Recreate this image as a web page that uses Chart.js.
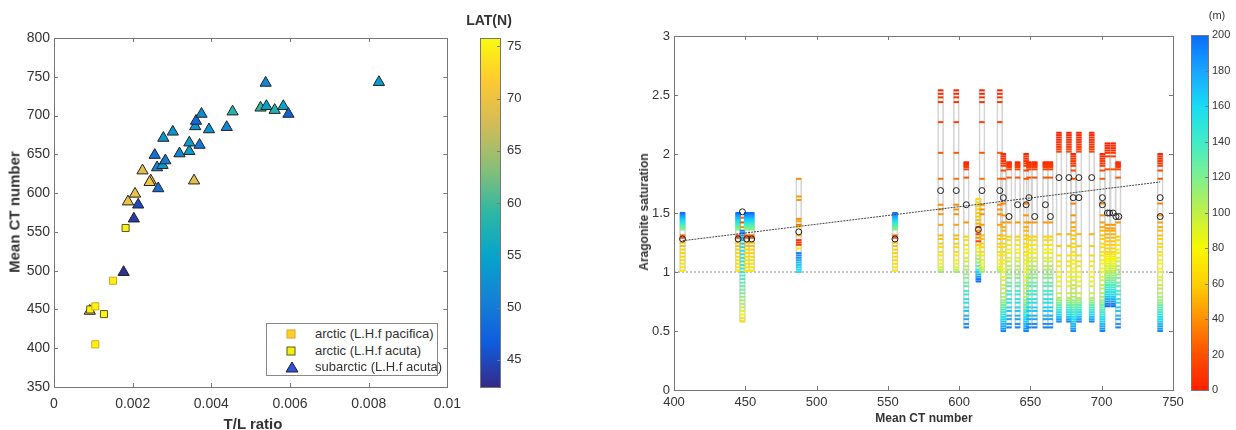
<!DOCTYPE html>
<html>
<head>
<meta charset="utf-8">
<script src="https://cdn.jsdelivr.net/npm/chart.js@4.4.1/dist/chart.umd.min.js"></script>
<style>
  body { margin: 0; background: #fff; font-family: "Liberation Sans", Arial, sans-serif; }
  #wrap { position: relative; width: 1236px; height: 430px; overflow: hidden; background: #fff; }
  canvas { position: absolute; top: 0; }
  .lbl { position: absolute; color: #333; white-space: nowrap; transform: translate(-50%, -50%); }
  .rot { transform: translate(-50%, -50%) rotate(-90deg); }
  #legend { position: absolute; left: 266px; top: 323px; width: 172px; height: 53px; border: 1px solid #888;
            background: #fff; font-size: 13px; color: #333; box-sizing: border-box; }
  #legend div { position: absolute; left: 0; height: 16px; line-height: 16px; }
  #legend svg { position: absolute; left: 18px; top: 2px; }
  #legend span { position: absolute; left: 48px; white-space: nowrap; }
</style>
</head>
<body>
<div id="wrap">
  <canvas id="left" width="470" height="430" style="left:0px"></canvas>
  <canvas id="leftBar" width="70" height="430" style="left:470px"></canvas>
  <canvas id="right" width="590" height="430" style="left:600px"></canvas>
  <canvas id="rightBar" width="51" height="430" style="left:1185px"></canvas>

  <div class="lbl rot" style="left:14px;top:212px;font-weight:bold;font-size:15px">Mean CT number</div>
  <div class="lbl" style="left:253px;top:423px;font-weight:bold;font-size:15px">T/L ratio</div>
  <div class="lbl" style="left:489px;top:20px;font-weight:bold;font-size:14px">LAT(N)</div>
  <div class="lbl rot" style="left:644px;top:212px;font-weight:bold;font-size:12px">Aragonite saturation</div>
  <div class="lbl" style="left:924px;top:418px;font-weight:bold;font-size:12px">Mean CT number</div>
  <div class="lbl" style="left:1217px;top:15px;font-size:11px">(m)</div>

  <div id="legend">
    <div style="top:2px;width:100%">
      <svg width="12" height="12"><rect x="2" y="2" width="8" height="8" fill="#fcd02c" stroke="#e0a020" stroke-width="1"/></svg>
      <span>arctic (L.H.f pacifica)</span></div>
    <div style="top:19px;width:100%">
      <svg width="12" height="12"><rect x="2" y="2" width="8" height="8" fill="#f2ee10" stroke="#5a5a20" stroke-width="1"/></svg>
      <span>arctic (L.H.f acuta)</span></div>
    <div style="top:35px;width:100%">
      <svg width="14" height="12"><polygon points="7,1 13,11 1,11" fill="#3050e0" stroke="#222" stroke-width="1"/></svg>
      <span>subarctic (L.H.f acuta)</span></div>
  </div>
</div>

<script>
// ---------- left panel: T/L ratio vs mean CT number, coloured by latitude ----------
const pacT = [0.00105, 0.00105, 0.00150];
const pacCT = [405, 454, 487];
const pacLat = [75.6, 75.2, 74.8];

const acuT = [0.00092, 0.00127, 0.00182];
const acuCT = [450, 444, 555];
const acuLat = [75.0, 75.3, 74.9];

const subT = [0.00091, 0.00177, 0.00203, 0.00214, 0.00188, 0.00206, 0.00225, 0.00246, 0.00243, 0.00356,
              0.00265, 0.00262, 0.00276, 0.00283, 0.00256, 0.00278, 0.00302, 0.00319, 0.00344, 0.00344,
              0.00370, 0.00359, 0.00361, 0.00375, 0.00394, 0.00439, 0.00454, 0.00525, 0.00540, 0.00538,
              0.00561, 0.00583, 0.00596, 0.00826];
const subCT = [448, 498, 567, 585, 589, 599, 629, 616, 614, 616,
               606, 633, 636, 642, 649, 671, 679, 651, 654, 665,
               662, 686, 693, 702, 682, 685, 705, 710, 712, 742,
               707, 712, 702, 743];
const subLat = [70, 43, 44, 45, 70, 70, 69, 70, 71, 69,
                49, 51, 54, 50, 49, 53, 53, 51, 54, 54,
                50, 53, 48, 52, 53, 51, 58, 59, 55, 51,
                58, 55, 47, 54];

const tlTicks = [0, 0.002, 0.004, 0.006, 0.008, 0.01];
const ctTicks = [350, 400, 450, 500, 550, 600, 650, 700, 750, 800];
const latTicks = [45, 50, 55, 60, 65, 70, 75];
const latMin = 42.4, latMax = 75.8;

// ---------- right panel: aragonite saturation profiles, coloured by depth ----------
const profAOmega = [2.54,2.51,2.48,2.44,2.27,2.01,1.79,1.57,1.53,1.49,1.40,1.31,1.28,1.24,1.21,1.17,1.14,1.10,1.07,1.04,1.02,1.00];
const profADepth = [2,4,6,8,14,22,30,38,40,42,46,52,56,60,64,68,72,76,82,90,100,112];

const profBOmega = [2.18,2.16,2.14,2.12,2.10,2.08,2.06,2.04,2.02,1.32,1.22,1.14,1.09,1.05,1.00,0.96,0.92,0.88,0.82,0.78,
                    0.76,0.74,0.72,0.70,0.68,0.66,0.64,0.62,0.60,0.58];
const profBDepth = [1,2,3,5,6,8,10,12,14,52,60,66,70,74,78,82,86,90,96,104,
                    112,120,128,136,144,152,160,170,180,190];

const profCOmega = [1.93,1.92,1.91,1.90,1.89,1.87,1.80,1.42,1.30,1.27,1.23,1.19,1.16,1.12,1.09,1.05,1.02,0.98,0.95,0.91,
                    0.88,0.84,0.81,0.77,0.74,0.70,0.67,0.63,0.60,0.56,0.53];
const profCDepth = [3,5,7,9,11,14,22,42,60,66,72,78,84,90,96,102,108,114,120,126,
                    132,138,144,150,156,162,168,174,180,186,192];

const profDOmega = [2.00,1.98,1.96,1.94,1.92,1.90,1.86,1.79,1.58,1.48,1.42,1.38,1.35,1.31,1.28,1.24,1.21,1.17,1.14,1.10,
                    1.07,1.03,1.00,0.96,0.93,0.89,0.86,0.82,0.79,0.76,0.74,0.72,0.70,0.68,0.66,0.64,0.62,0.60,0.58,0.56,
                    0.54,0.52,0.50];
const profDDepth = [2,4,6,8,10,12,16,22,34,40,44,48,52,56,60,63,66,69,72,75,
                    78,81,84,88,92,96,100,104,108,112,118,124,130,136,142,148,154,160,166,172,
                    178,184,190];

const profEOmega = [2.09,2.07,2.05,2.03,2.01,1.98,1.87,1.40,1.37,1.35,1.32,1.29,1.26,1.23,1.20,
                    1.17,1.15,1.13,1.11,1.09,1.07,1.05,1.03,1.01,0.99,0.97,0.95,0.93,0.91,0.89,0.87,0.85,0.83,0.81,
                    0.79,0.77,0.75,0.73,0.71];
const profEDepth = [1,3,5,7,9,12,20,40,44,47,50,53,56,59,62,
                    66,70,74,78,82,86,90,95,100,106,112,118,124,130,136,142,148,154,160,
                    168,176,184,192,200];

const profFOmega = [1.62,1.59,1.56,1.53,1.50,1.47,1.44,1.41,1.38,1.35,1.32,1.29,1.26,1.23,1.20,1.17,1.14,1.11,1.08,1.05,
                    1.02,1.00,0.98,0.96,0.94,0.92];
const profFDepth = [66,64,62,60,58,56,54,50,14,46,12,42,10,60,80,90,100,110,120,130,
                    150,165,175,185,195,200];

const profGOmega = [1.50,1.49,1.48,1.47,1.46,1.45,1.44,1.43,1.42,1.41,1.40,1.39,1.38,1.37,1.36,1.31,1.29,1.25,1.22,1.19,
                    1.16,1.13,1.10,1.07,1.04,1.01];
const profGDepth = [200,194,188,182,176,170,164,158,152,146,140,134,128,122,116,25,20,50,55,60,
                    62,64,66,68,70,72];

const profHOmega = [1.46,1.42,1.38,1.35,1.33,1.31,1.29,1.27,1.24,1.21,1.18,1.15,1.12,1.09,1.06,1.03,1.00,0.97,0.94,0.91,
                    0.88,0.85,0.82,0.79,0.76,0.73,0.70,0.67,0.64,0.61,0.58];
const profHDepth = [30,20,40,195,190,185,180,172,166,162,158,155,152,150,148,146,144,140,136,132,
                    128,124,120,115,110,105,100,90,80,72,66];

const profIOmega = [1.79,1.64,1.61,1.45,1.43,1.40,1.38,1.31,1.27,1.25,1.23,1.20,1.16,1.14,1.12,1.10,1.08,1.06,1.04,1.02,1.00];
const profIDepth = [40,42,44,40,45,28,75,50,8,5,10,72,195,190,185,178,172,166,162,158,154];

const stationCT = [406,445,448,451,454.5,487.5,555,587,598,605,613.5,616,628.5,631,635,641,647,649,653,660.5,
                   664,670,677,680,684,693,700.5,704,708,711.5,741];
const stationProf = ['G','G','H','G','G','I','G','A','A','C','F','A','A','D','C','C','D','C','C','C',
                     'C','B','B','D','B','B','D','E','E','C','D'];

const circCT = [406,445,448,451,454.5,487.5,555,587,598,605,613.5,616,628.5,631,635,641,647,649,653,660.5,
                664,670,677,680,684,684,693,700.5,700.5,704,705.5,708,710,712,741,741];
const circOmega = [1.28,1.28,1.51,1.28,1.28,1.34,1.28,1.69,1.69,1.57,1.36,1.69,1.69,1.63,1.47,1.57,1.57,1.63,1.47,1.57,
                   1.47,1.80,1.80,1.63,1.80,1.63,1.80,1.63,1.57,1.50,1.50,1.50,1.47,1.47,1.63,1.47];

const fitCT = [406, 741];
const fitOmega = [1.265, 1.763];
const satCT = [400, 750];
const satOmega = [1, 1];

const mctTicks = [400, 450, 500, 550, 600, 650, 700, 750];
const omegaTicks = [0, 0.5, 1, 1.5, 2, 2.5, 3];
const depthTicks = [0, 20, 40, 60, 80, 100, 120, 140, 160, 180, 200];

// colour maps
const parula = ['#352a87','#0f5cdd','#1481d6','#06a4ca','#2eb7a4','#87bf77','#d1bb59','#fec832','#f9fb0e'];
const depthMap = ['#ff2000','#ff5000','#ff9000','#ffd000','#f8f800','#c0f048','#7ef090','#40ecc8','#18dcf4','#18a4ff','#0a6cff'];

function hex2rgb(h) { return [1, 3, 5].map(i => parseInt(h.substr(i, 2), 16)); }
function cmap(stops, t) {
  t = Math.max(0, Math.min(1, t));
  const n = stops.length - 1, f = t * n;
  const i = Math.min(n - 1, Math.floor(f)), u = f - i;
  const a = hex2rgb(stops[i]), b = hex2rgb(stops[i + 1]);
  return 'rgb(' + a.map((v, k) => Math.round(v + (b[k] - v) * u)).join(',') + ')';
}
const latColor = lat => cmap(parula, (lat - latMin) / (latMax - latMin));
const depthColor = d => cmap(depthMap, d / 200);

const fixTicks = vals => scale => { scale.ticks = vals.map(v => ({ value: v })); };
const fmt = v => String(Number(v.toFixed(4)));

// matlab style box with inward ticks
const boxPlugin = {
  id: 'box',
  afterDatasetsDraw(chart) {
    const { ctx, chartArea: a, scales } = chart;
    ctx.save();
    ctx.strokeStyle = '#777';
    ctx.lineWidth = 1;
    ctx.strokeRect(Math.round(a.left) + 0.5, Math.round(a.top) + 0.5, Math.round(a.right - a.left), Math.round(a.bottom - a.top));
    ctx.beginPath();
    scales.x.ticks.forEach(t => {
      const x = Math.round(scales.x.getPixelForValue(t.value)) + 0.5;
      ctx.moveTo(x, a.bottom); ctx.lineTo(x, a.bottom - 4);
      ctx.moveTo(x, a.top); ctx.lineTo(x, a.top + 4);
    });
    scales.y.ticks.forEach(t => {
      const y = Math.round(scales.y.getPixelForValue(t.value)) + 0.5;
      ctx.moveTo(a.left, y); ctx.lineTo(a.left + 4, y);
      ctx.moveTo(a.right, y); ctx.lineTo(a.right - 4, y);
    });
    ctx.stroke();
    ctx.restore();
  }
};

const baseOpts = {
  responsive: false, animation: false, devicePixelRatio: 1,
  plugins: { legend: { display: false }, tooltip: { enabled: false } },
  events: []
};

function axis(min, max, ticks, size, pad, fit) {
  return {
    type: 'linear', min, max, offset: false,
    afterBuildTicks: fixTicks(ticks),
    afterFit: fit,
    grid: { display: false, drawTicks: false, offset: false },
    border: { display: false },
    ticks: { autoSkip: false, maxRotation: 0, padding: pad, color: '#333',
             font: { family: 'Liberation Sans', size }, callback: v => fmt(v) }
  };
}

// left chart
const pts = (xs, ys, cs) => xs.map((x, i) => ({ x, y: ys[i], c: cs[i] }));
new Chart(document.getElementById('left'), {
  type: 'scatter',
  data: {
    datasets: [
      { label: 'arctic (L.H.f pacifica)', data: pts(pacT, pacCT, pacLat), pointStyle: 'rect', pointRadius: 5,
        pointBackgroundColor: c => latColor(c.raw.c), pointBorderColor: '#e0a020', pointBorderWidth: 1 },
      { label: 'arctic (L.H.f acuta)', data: pts(acuT, acuCT, acuLat), pointStyle: 'rect', pointRadius: 5,
        pointBackgroundColor: c => latColor(c.raw.c), pointBorderColor: '#5a5a20', pointBorderWidth: 1 },
      { label: 'subarctic (L.H.f acuta)', data: pts(subT, subCT, subLat), pointStyle: 'triangle', pointRadius: 6.5,
        pointBackgroundColor: c => latColor(c.raw.c), pointBorderColor: '#222', pointBorderWidth: 1 }
    ]
  },
  options: Object.assign({}, baseOpts, {
    layout: { padding: { left: 0, right: 21, top: 38, bottom: 0 } },
    scales: {
      x: axis(0, 0.01, tlTicks, 14, 9, s => { s.height = 43; }),
      y: axis(350, 800, ctTicks, 14, 4, s => { s.width = 54; })
    }
  }),
  plugins: [boxPlugin]
});

// right chart
const profiles = {
  A: [profAOmega, profADepth], B: [profBOmega, profBDepth], C: [profCOmega, profCDepth],
  D: [profDOmega, profDDepth], E: [profEOmega, profEDepth], F: [profFOmega, profFDepth],
  G: [profGOmega, profGDepth], H: [profHOmega, profHDepth], I: [profIOmega, profIDepth]
};
const dashes = [], columns = [];
stationCT.forEach((ct, i) => {
  const [om, dp] = profiles[stationProf[i]];
  om.forEach((o, k) => dashes.push({ x: ct, y: o, d: dp[k] }));
  columns.push({ x: ct, y: [Math.min(...om), Math.max(...om)] });
});

new Chart(document.getElementById('right'), {
  type: 'scatter',
  data: {
    datasets: [
      { type: 'bar', data: columns, backgroundColor: 'rgba(255,255,255,0)', borderColor: '#d4d4d4',
        borderWidth: 1, borderSkipped: false, barThickness: 6, order: 5 },
      { data: satCT.map((x, i) => ({ x, y: satOmega[i] })), showLine: true, pointRadius: 0,
        borderColor: '#b0b0b0', borderWidth: 1.5, borderDash: [2, 2], order: 4 },
      { data: dashes, pointStyle: 'line', pointRadius: 2.7, pointBorderWidth: 2,
        pointBorderColor: c => depthColor(c.raw.d), order: 3 },
      { data: fitCT.map((x, i) => ({ x, y: fitOmega[i] })), showLine: true, pointRadius: 0,
        borderColor: '#444', borderWidth: 1, borderDash: [2, 1], order: 2 },
      { data: circCT.map((x, i) => ({ x, y: circOmega[i] })), pointStyle: 'circle', pointRadius: 3,
        pointBorderColor: '#222', pointBorderWidth: 1, pointBackgroundColor: 'rgba(0,0,0,0)', order: 1 }
    ]
  },
  options: Object.assign({}, baseOpts, {
    layout: { padding: { left: 0, right: 17, top: 36, bottom: 0 } },
    scales: {
      x: axis(400, 750, mctTicks, 13, 5, s => { s.height = 40; }),
      y: axis(0, 3, omegaTicks, 13, 4, s => { s.width = 74; })
    }
  }),
  plugins: [boxPlugin]
});

// colour bars
function colorbar(id, min, max, ticks, stops, pad, axisW, size, labelPad) {
  new Chart(document.getElementById(id), {
    type: 'scatter',
    data: { datasets: [] },
    options: Object.assign({}, baseOpts, {
      layout: { padding: pad },
      scales: {
        x: { display: false, min: 0, max: 1 },
        y: Object.assign(axis(min, max, ticks, size, labelPad, s => { s.width = axisW; }), { position: 'right' })
      }
    }),
    plugins: [{
      id: 'grad',
      beforeDatasetsDraw(chart) {
        const { ctx, chartArea: a, scales } = chart;
        const g = ctx.createLinearGradient(0, a.bottom, 0, a.top);
        stops.forEach((s, i) => g.addColorStop(i / (stops.length - 1), s));
        ctx.save();
        ctx.fillStyle = g;
        ctx.fillRect(a.left, a.top, a.right - a.left, a.bottom - a.top);
        ctx.strokeStyle = '#777';
        ctx.lineWidth = 1;
        ctx.strokeRect(Math.round(a.left) + 0.5, Math.round(a.top) + 0.5, Math.round(a.right - a.left), Math.round(a.bottom - a.top));
        ctx.beginPath();
        scales.y.ticks.forEach(t => {
          const y = Math.round(scales.y.getPixelForValue(t.value)) + 0.5;
          ctx.moveTo(a.right, y); ctx.lineTo(a.right - 3, y);
        });
        ctx.stroke();
        ctx.restore();
      }
    }]
  });
}
colorbar('leftBar', latMin, latMax, latTicks, parula, { left: 10, right: 0, top: 38, bottom: 43 }, 40, 13, 7);
colorbar('rightBar', 0, 200, depthTicks, depthMap, { left: 6, right: 0, top: 35, bottom: 40 }, 28, 11, 4);
</script>
</body>
</html>
